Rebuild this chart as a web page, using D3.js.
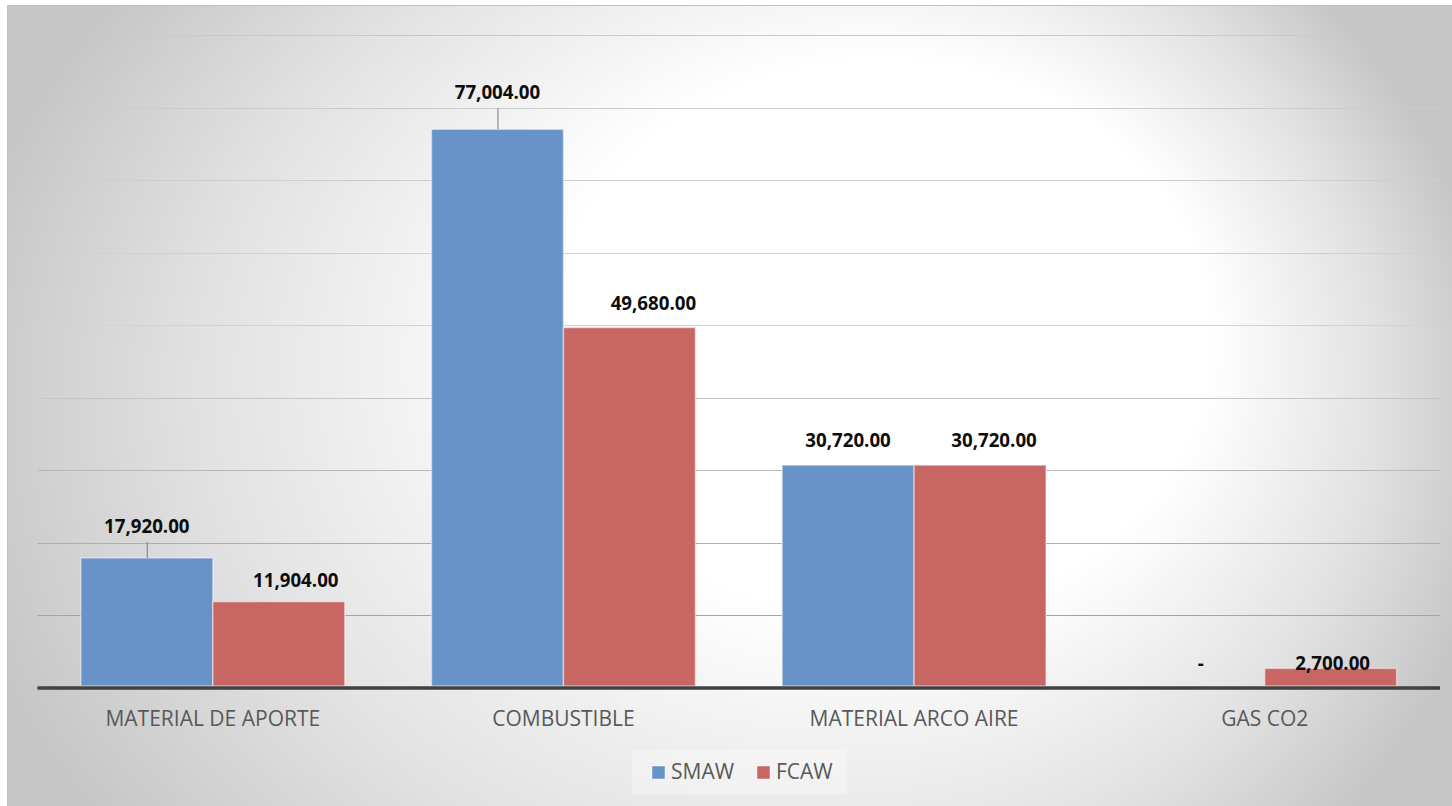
<!DOCTYPE html>
<html>
<head>
<meta charset="utf-8">
<script src="https://cdn.jsdelivr.net/npm/d3@7"></script>
<style>
  html, body { margin: 0; padding: 0; background: #ffffff; }
  svg { display: block; }
  text { font-family: "Open Sans", "DejaVu Sans", sans-serif; }
</style>
</head>
<body>
<svg id="chart" width="1452" height="806"></svg>
<script>
// Costs per item for each welding process
const categories = ["MATERIAL DE APORTE", "COMBUSTIBLE", "MATERIAL ARCO AIRE", "GAS CO2"];
const seriesNames = ["SMAW", "FCAW"];
const smawValues = [17920, 77004, 30720, 0];
const fcawValues = [11904, 49680, 30720, 2700];
const gridTicks = [0, 10000, 20000, 30000, 40000, 50000, 60000, 70000, 80000, 90000];

const colors = { SMAW: "#6793c8", FCAW: "#c86664" };

// Data label nudges (dx, dy from default spot above bar), leader flag
const labelLayout = {
  "SMAW|MATERIAL DE APORTE": { dx: 0, dy: -7, leader: true },
  "SMAW|COMBUSTIBLE": { dx: 0, dy: -12, leader: true },
  "FCAW|MATERIAL DE APORTE": { dx: 17, dy: 3.5 },
  "FCAW|COMBUSTIBLE": { dx: 24, dy: 0 },
  "FCAW|MATERIAL ARCO AIRE": { dx: 14, dy: 0 },
  "SMAW|GAS CO2": { dx: 2, dy: 0 },
  "FCAW|GAS CO2": { dx: 2, dy: 20 }
};

const W = 1452, H = 806;
const plot = { left: 37.5, right: 1440, top: 35, bottom: 688 };

const svg = d3.select("#chart");
const defs = svg.append("defs");

// Chart area background: soft white glow fading to grey at the edges
const bg = defs.append("radialGradient")
  .attr("id", "bgGrad")
  .attr("gradientUnits", "userSpaceOnUse")
  .attr("cx", 720).attr("cy", 420).attr("r", 780)
  .attr("fx", 1000).attr("fy", 255)
  .attr("gradientTransform", "translate(0,420) scale(1,0.85) translate(0,-420)");
[[0, "#ffffff"], [0.42, "#ffffff"], [0.75, "#e2e2e2"], [0.92, "#cfcfcf"], [1, "#c6c6c6"]]
  .forEach(([o, c]) => bg.append("stop").attr("offset", o).attr("stop-color", c));

// Gridlines darken toward the bottom of the plot
const gg = defs.append("linearGradient")
  .attr("id", "gridGrad")
  .attr("gradientUnits", "userSpaceOnUse")
  .attr("x1", 0).attr("y1", plot.top).attr("x2", 0).attr("y2", plot.bottom);
[[0, "#c9c9c9"], [0.45, "#d2d2d2"], [0.7, "#b4b4b4"], [1, "#9a9a9a"]]
  .forEach(([o, c]) => gg.append("stop").attr("offset", o).attr("stop-color", c));

svg.append("rect")
  .attr("x", 7.5).attr("y", 5.5)
  .attr("width", W).attr("height", H)
  .attr("fill", "url(#bgGrad)")
  .attr("stroke", "#c0c0c0").attr("stroke-width", 1);

const x = d3.scaleBand().domain(categories).range([plot.left, plot.right]).padding(0);
const barW = x.bandwidth() / (2 + 0.657);
const xs = d3.scaleBand().domain(seriesNames)
  .range([(x.bandwidth() - 2 * barW) / 2, (x.bandwidth() + 2 * barW) / 2]).padding(0);
const y = d3.scaleLinear().domain([0, 90000]).range([plot.bottom, plot.top]);

// Horizontal gridlines
svg.append("g")
  .selectAll("line")
  .data(gridTicks.slice(1))
  .join("line")
  .attr("x1", plot.left).attr("x2", plot.right)
  .attr("y1", d => Math.round(y(d)) + 0.5).attr("y2", d => Math.round(y(d)) + 0.5)
  .attr("stroke", "url(#gridGrad)")
  .attr("stroke-width", 1.2);

const rows = [];
categories.forEach((c, i) => {
  rows.push({ series: "SMAW", cat: c, value: smawValues[i] });
  rows.push({ series: "FCAW", cat: c, value: fcawValues[i] });
});

// Bars
svg.append("g")
  .selectAll("rect")
  .data(rows.filter(d => d.value > 0))
  .join("rect")
  .attr("x", d => x(d.cat) + xs(d.series))
  .attr("width", xs.bandwidth())
  .attr("y", d => y(d.value))
  .attr("height", d => y(0) - 2 - y(d.value))
  .attr("fill", d => colors[d.series])
  .attr("stroke", "rgba(255,255,255,0.45)")
  .attr("stroke-width", 1.5);

// Category axis line
svg.append("line")
  .attr("x1", plot.left).attr("x2", plot.right)
  .attr("y1", y(0)).attr("y2", y(0))
  .attr("stroke", "#404040").attr("stroke-width", 3.5);

// Category labels
svg.append("g")
  .selectAll("text")
  .data(categories)
  .join("text")
  .attr("x", d => x(d) + x.bandwidth() / 2)
  .attr("y", 726)
  .attr("text-anchor", "middle")
  .attr("font-size", 21)
  .attr("fill", "#595959")
  .text(d => d);

// Data labels
const fmt = v => v === 0 ? "-" : d3.format(",.2f")(v);
const labels = svg.append("g");
rows.forEach(d => {
  const lay = labelLayout[d.series + "|" + d.cat] || { dx: 0, dy: 0 };
  const cx = x(d.cat) + xs(d.series) + xs.bandwidth() / 2;
  const top = y(d.value);
  const by = top - 18 + lay.dy;
  if (lay.leader) {
    labels.append("line")
      .attr("x1", cx + 0.5).attr("x2", cx + 0.5)
      .attr("y1", by + 9).attr("y2", top)
      .attr("stroke", "#8c8c8c").attr("stroke-width", 1.2);
  }
  labels.append("text")
    .attr("x", cx + lay.dx)
    .attr("y", by)
    .attr("text-anchor", "middle")
    .attr("font-size", 18.7)
    .attr("font-weight", 700)
    .attr("fill", "#0d0d0d")
    .text(fmt(d.value));
});

// Legend
const legend = svg.append("g");
legend.append("rect")
  .attr("x", 632).attr("y", 750).attr("width", 215).attr("height", 44)
  .attr("fill", "rgba(255,255,255,0.3)");
const legendPos = [652, 757];
seriesNames.forEach((s, i) => {
  legend.append("rect")
    .attr("x", legendPos[i]).attr("y", 766).attr("width", 13).attr("height", 13)
    .attr("fill", colors[s])
    .attr("stroke", "rgba(255,255,255,0.45)").attr("stroke-width", 1);
  legend.append("text")
    .attr("x", legendPos[i] + 19).attr("y", 778.5)
    .attr("font-size", 21)
    .attr("fill", "#595959")
    .text(s);
});
</script>
</body>
</html>
